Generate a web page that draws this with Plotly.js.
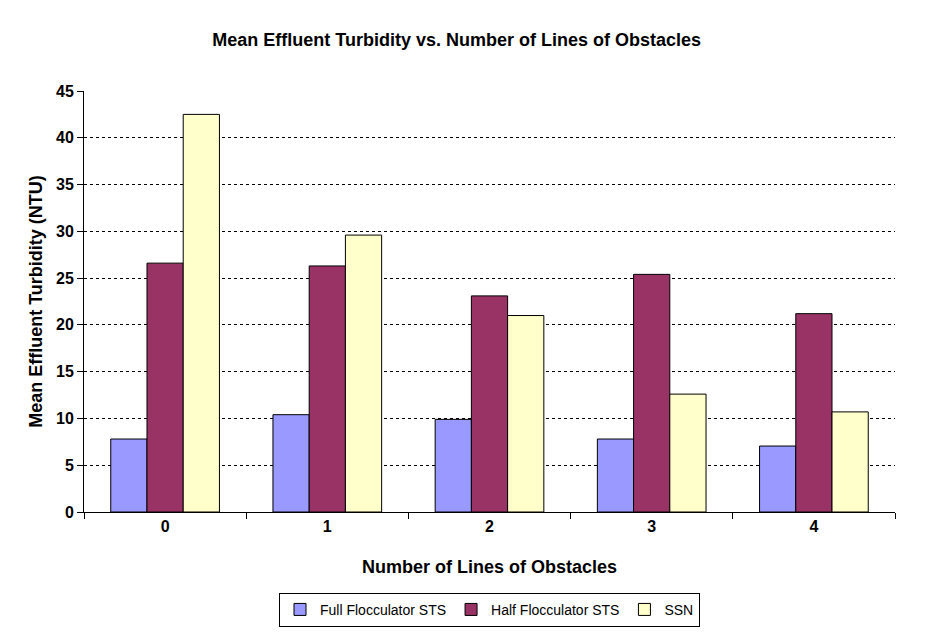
<!DOCTYPE html>
<html>
<head>
<meta charset="utf-8">
<script src="https://cdn.plot.ly/plotly-3.0.1.min.js"></script>
<style>
  html, body { margin: 0; padding: 0; background: #fff; }
  #chart { width: 934px; height: 641px; }
</style>
</head>
<body>
<div id="chart"></div>
<script>
// data
const categories = ['0', '1', '2', '3', '4'];
const fullSTS = [7.8, 10.4, 9.9, 7.8, 7.05];
const halfSTS = [26.6, 26.3, 23.1, 25.4, 21.2];
const ssn = [42.5, 29.6, 21.0, 12.6, 10.7];
const yTicks = [0, 5, 10, 15, 20, 25, 30, 35, 40, 45];

const fontFamily = 'Arial, "Liberation Sans", sans-serif';

function barTrace(name, values, color) {
    return {
        type: 'bar',
        name: name,
        x: categories,
        y: values,
        marker: {
            color: color,
            line: { color: '#000000', width: 1 }
        },
        hoverinfo: 'x+y+name'
    };
}

const data = [
    barTrace('Full Flocculator STS', fullSTS, '#9999FF'),
    barTrace('Half Flocculator STS', halfSTS, '#993366'),
    barTrace('SSN', ssn, '#FFFFCC')
];

const layout = {
    width: 934,
    height: 641,
    paper_bgcolor: '#ffffff',
    plot_bgcolor: '#ffffff',
    margin: { l: 84, r: 39, t: 91, b: 129 },
    barmode: 'group',
    bargap: 0.33,
    bargroupgap: 0,
    font: { family: fontFamily, color: '#000000' },
    title: {
        text: 'Mean Effluent Turbidity vs. Number of Lines of Obstacles',
        font: { family: fontFamily, size: 18, weight: 'bold', color: '#000000' },
        x: 0.489,
        xanchor: 'center',
        xref: 'container',
        y: 0.938,
        yanchor: 'middle'
    },
    xaxis: {
        type: 'category',
        tickson: 'boundaries',
        ticks: 'outside',
        ticklen: 6,
        tickcolor: '#000000',
        showline: true,
        linecolor: '#000000',
        linewidth: 1,
        showgrid: false,
        tickfont: { family: fontFamily, size: 16, weight: 'bold' },
        title: {
            text: 'Number of Lines of Obstacles',
            font: { family: fontFamily, size: 18, weight: 'bold' },
            standoff: 26
        }
    },
    yaxis: {
        range: [0, 45],
        tickvals: yTicks,
        ticks: 'outside',
        ticklen: 6,
        tickcolor: '#000000',
        showline: true,
        linecolor: '#000000',
        linewidth: 1,
        showgrid: true,
        gridcolor: '#000000',
        gridwidth: 1,
        griddash: '3px,3px',
        zeroline: false,
        tickfont: { family: fontFamily, size: 16, weight: 'bold' },
        title: {
            text: 'Mean Effluent Turbidity (NTU)',
            font: { family: fontFamily, size: 18, weight: 'bold' },
            standoff: 8
        }
    },
    showlegend: true,
    legend: {
        orientation: 'h',
        x: 0.5,
        xanchor: 'center',
        y: -0.192,
        yanchor: 'top',
        bgcolor: '#ffffff',
        bordercolor: '#000000',
        borderwidth: 1,
        font: { family: fontFamily, size: 14, color: '#000000' },
        itemwidth: 30,
        tracegroupgap: 0
    },
    hovermode: 'closest'
};

Plotly.newPlot('chart', data, layout, { displayModeBar: false });
</script>
</body>
</html>
